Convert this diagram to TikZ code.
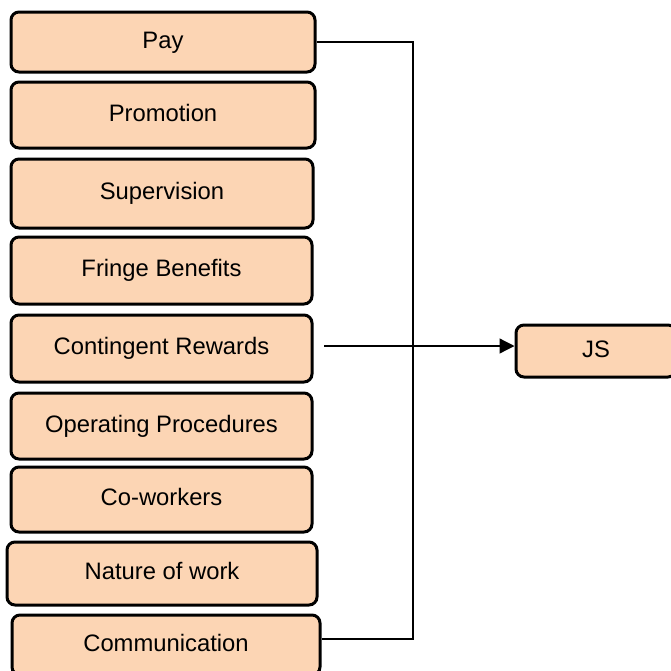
\documentclass[tikz,border=0pt]{standalone}
\usepackage{fontspec}
\setmainfont{Liberation Sans}
\usetikzlibrary{arrows.meta}
\definecolor{peach}{HTML}{FCD5B4}

\begin{document}
\begin{tikzpicture}[x=0.5pt,y=-0.5pt,
    facet/.style={draw, line width=1.5pt, fill=peach, rounded corners=4pt,
      inner sep=0pt, text height=8.5pt, text depth=2.5pt,
      font=\fontsize{11.9}{14}\selectfont},
    link/.style={line width=0.65pt}]
    \useasboundingbox (0,0) rectangle (671,671);
    \clip (0,0) rectangle (671,671);
    \node[facet, minimum width=152pt, minimum height=30pt] (pay) at (163,42) {Pay};
    \node[facet, minimum width=152pt, minimum height=33pt] (prom) at (163,115) {Promotion};
    \node[facet, minimum width=151pt, minimum height=34.5pt] (sup) at (162,193.5) {Supervision};
    \node[facet, minimum width=150.5pt, minimum height=33.5pt] (fringe) at (161.5,270.5) {Fringe Benefits};
    \node[facet, minimum width=150.5pt, minimum height=33.5pt] (reward) at (161.5,348.5) {Contingent Rewards};
    \node[facet, minimum width=150.5pt, minimum height=33pt] (oper) at (161.5,426) {Operating Procedures};
    \node[facet, minimum width=150.5pt, minimum height=32.5pt] (cowork) at (161.5,499.5) {Co-workers};
    \node[facet, minimum width=155pt, minimum height=31.5pt] (nature) at (162,573.5) {Nature of work};
    \node[facet, minimum width=154pt, minimum height=30pt] (comm) at (166,645) {Communication};
    \node[facet, minimum width=80pt, minimum height=26pt] (js) at (596,351) {JS};
    % bracket joining the facets
    \coordinate (bus) at (413,639);
    \draw[link] (pay.east) -| (bus) -- (bus -| comm.east);
    \coordinate (start) at (324,346);
    \draw[link, -{Triangle[length=7.5pt,width=7.5pt]}] (start) -- (start -| js.west);
\end{tikzpicture}
\end{document}
